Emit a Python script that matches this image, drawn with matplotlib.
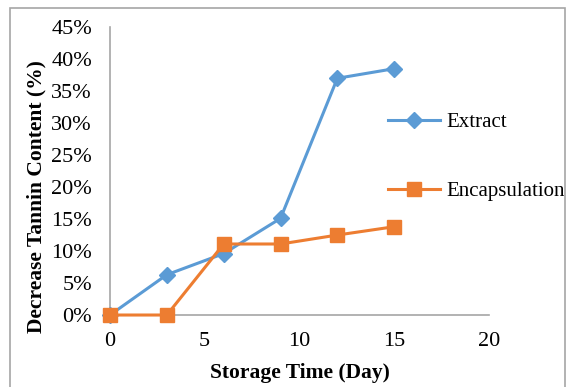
import matplotlib
matplotlib.use("Agg")
import matplotlib.pyplot as plt
from matplotlib.patches import Rectangle
from matplotlib.ticker import PercentFormatter

plt.rcParams.update({"font.family": ["Liberation Serif", "DejaVu Serif"], "font.size": 16})

days = [0, 3, 6, 9, 12, 15]
extract = [0, 6.3, 9.6, 15.1, 37.0, 38.5]
encapsulation = [0, 0, 11.1, 11.1, 12.5, 13.8]

BLUE, ORANGE, GRAY = "#5B9BD5", "#ED7D31", "#A6A6A6"

fig = plt.figure(figsize=(5.69, 3.87), dpi=100)
ax = fig.add_axes([0.1933, 0.186, 0.666, 0.744])

ax.plot(days, extract, "-D", color=BLUE, lw=2.2, ms=8.5, label="Extract", clip_on=False, zorder=3)
ax.plot(days, encapsulation, "-s", color=ORANGE, lw=2.2, ms=10, label="Encapsulation", clip_on=False, zorder=4)

ax.set_xlim(0, 20)
ax.set_ylim(0, 45)
ax.set_xticks([0, 5, 10, 15, 20])
ax.set_yticks(range(0, 46, 5))
ax.yaxis.set_major_formatter(PercentFormatter(decimals=0))
ax.tick_params(length=0, colors="black")
ax.tick_params(axis="y", pad=13)
ax.tick_params(axis="x", pad=12)
for side in ("top", "right"):
    ax.spines[side].set_visible(False)
for side in ("left", "bottom"):
    ax.spines[side].set_color(GRAY)
    ax.spines[side].set_linewidth(1.2)

ax.set_xlabel("Storage Time (Day)", fontweight="bold", fontsize=15.5, labelpad=9)
ax.set_ylabel("Decrease Tannin Content (%)", fontweight="bold", fontsize=15.5)
ax.yaxis.set_label_coords(-0.168, 0.41)

ax.legend(loc="upper left", bbox_to_anchor=(0.733, 0.702), frameon=False, fontsize=15,
          handlelength=2.5, labelspacing=2.35, handletextpad=0.3, borderaxespad=0, borderpad=0)

# outer chart frame
fig.patches.append(Rectangle((10 / 569, -0.01), 555 / 569, 1 - 8 / 387 + 0.01,
                             transform=fig.transFigure, fill=False,
                             edgecolor=GRAY, lw=1.2))

fig.savefig("out.png", dpi=100)
